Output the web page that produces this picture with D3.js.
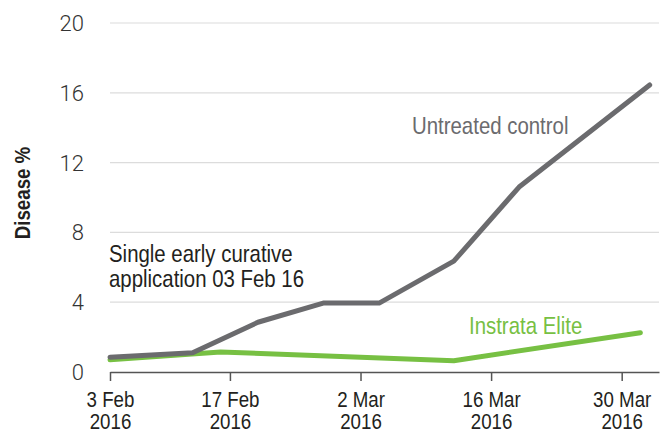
<!DOCTYPE html>
<html lang="en">
<head>
<meta charset="UTF-8">
<title>Disease % - Instrata Elite vs untreated control</title>
<script src="https://d3js.org/d3.v7.min.js"></script>
<style>
html, body {
  margin: 0;
  padding: 0;
  background-color: white;
}

/* no narrow face installed, so squeeze Liberation Sans horizontally */
.narrow {
  font-family: 'Liberation Sans', Arial, sans-serif;
}

.grid line {
  stroke: #dcdcdc;
  stroke-width: 1.2px;
}

.y-axis text {
  font-family: 'Roboto', 'Liberation Sans', sans-serif;
  font-weight: 300;
  font-size: 22px;
  fill: #333;
}

.x-axis path, .x-axis line {
  stroke: #555;
  stroke-width: 1.5px;
}

.x-axis text {
  font-size: 22px;
  fill: #231f20;
}

.series {
  fill: none;
  stroke-width: 5px;
  stroke-linecap: round;
  stroke-linejoin: round;
}
</style>
</head>
<body>
<div id="chart"></div>

<script>

// --------------------------------------
// Data
// --------------------------------------

const controlDates = ["2016-02-03", "2016-02-13", "2016-02-20", "2016-02-27", "2016-03-04", "2016-03-12", "2016-03-19", "2016-04-02"];
const controlValues = [0.85, 1.1, 2.85, 3.95, 3.95, 6.35, 10.6, 16.45];

const eliteDates = ["2016-02-03", "2016-02-16", "2016-03-12", "2016-04-01"];
const eliteValues = [0.7, 1.15, 0.65, 2.25];

const yTicks = [0, 4, 8, 12, 16, 20];
const xTickDates = ["2016-02-03", "2016-02-17", "2016-03-02", "2016-03-16", "2016-03-30"];
const xTickLabels = [["3 Feb", "2016"], ["17 Feb", "2016"], ["2 Mar", "2016"], ["16 Mar", "2016"], ["30 Mar", "2016"]];

const parseDate = d3.timeParse("%Y-%m-%d");

const control = controlDates.map((d, i) => ({date: parseDate(d), value: controlValues[i]}));
const elite = eliteDates.map((d, i) => ({date: parseDate(d), value: eliteValues[i]}));

const squeeze = 0.85;

// --------------------------------------
// Size and margin
// --------------------------------------

let totalWidth = 671;
let totalHeight = 432;
let margin = {top: 23, right: 12, bottom: 60, left: 110};

let svg = d3.select("#chart")
  .append("svg")
  .attr("width", totalWidth)
  .attr("height", totalHeight);

// --------------------------------------
// Scales
// --------------------------------------

// the axis starts a little after 3 Feb, so clamp to the left edge
let x = d3.scaleTime()
  .domain([new Date(2016, 1, 4, 3, 26), new Date(2016, 3, 3)])
  .range([margin.left, totalWidth - margin.right])
  .clamp(true);

let y = d3.scaleLinear()
  .domain([0, 20])
  .range([totalHeight - margin.bottom, margin.top]);

// --------------------------------------
// Grid + axes
// --------------------------------------

svg.append("g")
  .attr("class", "grid")
  .selectAll("line")
  .data(yTicks.filter(d => d > 0))
  .join("line")
  .attr("x1", margin.left)
  .attr("x2", totalWidth - margin.right)
  .attr("y1", d => y(d))
  .attr("y2", d => y(d));

svg.append("g")
  .attr("class", "y-axis")
  .selectAll("text")
  .data(yTicks)
  .join("text")
  .attr("x", 84)
  .attr("y", d => y(d))
  .attr("dy", "0.36em")
  .attr("text-anchor", "end")
  .text(d => d);

const xAxis = svg.append("g")
  .attr("class", "x-axis narrow")
  .attr("transform", `translate(0,${y(0)})`)
  .call(d3.axisBottom(x)
    .tickValues(xTickDates.map(parseDate))
    .tickSize(9)
    .tickSizeOuter(0)
    .tickFormat(""));

xAxis.selectAll(".tick text").remove();

xAxis.selectAll(".tick")
  .append("text")
  .attr("text-anchor", "middle")
  .attr("transform", `scale(${squeeze},1)`)
  .selectAll("tspan")
  .data((d, i) => xTickLabels[i])
  .join("tspan")
  .attr("x", 0)
  .attr("y", (d, i) => 35 + i * 21.7)
  .text(d => d);

svg.append("text")
  .attr("class", "narrow")
  .attr("transform", `translate(30,193) rotate(-90) scale(${squeeze},1)`)
  .attr("text-anchor", "middle")
  .attr("font-weight", "bold")
  .attr("font-size", "22px")
  .attr("fill", "#231f20")
  .text("Disease %");

// --------------------------------------
// Lines
// --------------------------------------

let line = d3.line()
  .x(d => x(d.date))
  .y(d => y(d.value));

svg.append("path")
  .datum(elite)
  .attr("class", "series")
  .attr("stroke", "#77c043")
  .attr("d", line);

svg.append("path")
  .datum(control)
  .attr("class", "series")
  .attr("stroke", "#6b6b6e")
  .attr("d", line);

// --------------------------------------
// Labels
// --------------------------------------

function note(px, py, color, lines) {
  svg.append("text")
    .attr("class", "narrow")
    .attr("transform", `translate(${px},${py}) scale(${squeeze},1)`)
    .attr("font-size", "24px")
    .attr("fill", color)
    .selectAll("tspan")
    .data(lines)
    .join("tspan")
    .attr("x", 0)
    .attr("y", (d, i) => i * 25)
    .text(d => d);
}

note(412, 134, "#6b6b6e", ["Untreated control"]);
note(469, 334, "#77c043", ["Instrata Elite"]);
note(109, 262, "#231f20", ["Single early curative", "application 03 Feb 16"]);

</script>
</body>
</html>
